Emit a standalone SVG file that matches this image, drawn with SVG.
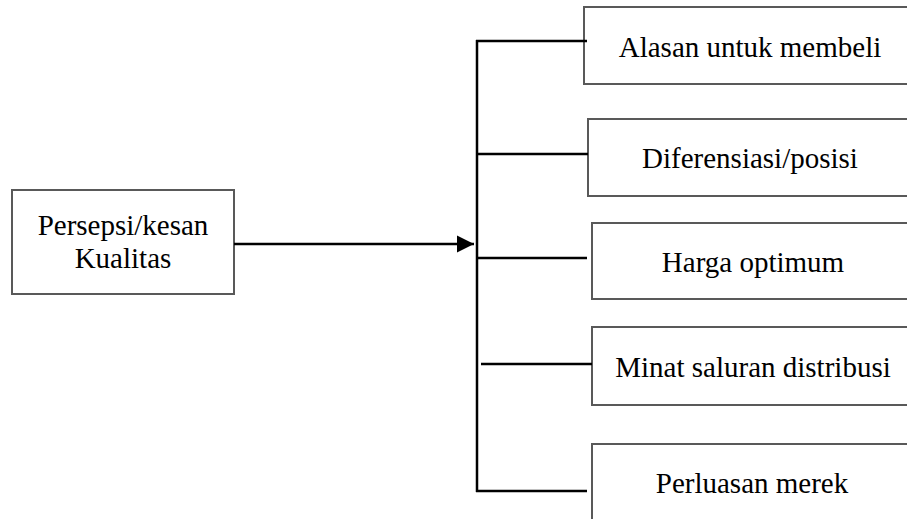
<svg xmlns="http://www.w3.org/2000/svg" width="907" height="519" viewBox="0 0 907 519">
<style>
.box{fill:#fff;stroke:#595959;stroke-width:2}
.lbl{font-family:"Liberation Serif","Times New Roman",serif;font-size:29px;fill:#000;text-anchor:middle}
.con{stroke:#000;stroke-width:2.5;fill:none}
</style>
<defs>
<marker id="arr" markerWidth="8" markerHeight="8" refX="7" refY="3.5" orient="auto" markerUnits="strokeWidth">
<path d="M0,0 L7,3.5 L0,7 Z" fill="#000"/>
</marker>
</defs>
<rect width="907" height="519" fill="#fff"/>
<g id="n-persepsi"><rect class="box" x="12" y="190" width="222" height="104"/><text class="lbl" x="123" y="235">Persepsi/kesan</text><text class="lbl" x="123" y="268">Kualitas</text></g>
<g id="n-alasan"><rect class="box" x="584" y="7" width="330" height="77"/><text class="lbl" x="750" y="57">Alasan untuk membeli</text></g>
<g id="n-diferensiasi"><rect class="box" x="588" y="119" width="330" height="77"/><text class="lbl" x="750" y="168">Diferensiasi/posisi</text></g>
<g id="n-harga"><rect class="box" x="592" y="223" width="330" height="76"/><text class="lbl" x="753" y="272">Harga optimum</text></g>
<g id="n-minat"><rect class="box" x="592" y="327" width="330" height="78"/><text class="lbl" x="753" y="377">Minat saluran distribusi</text></g>
<g id="n-perluasan"><rect class="box" x="592" y="444" width="330" height="90"/><text class="lbl" x="752" y="493">Perluasan merek</text></g>
<g id="connectors">
<line class="con" x1="234" y1="244" x2="474" y2="244" marker-end="url(#arr)"/>
<line class="con" x1="477" y1="40" x2="477" y2="492"/>
<line class="con" x1="476" y1="41" x2="587" y2="41"/>
<line class="con" x1="476" y1="154" x2="588" y2="154"/>
<line class="con" x1="476" y1="258" x2="587" y2="258"/>
<line class="con" x1="481" y1="364" x2="592" y2="364"/>
<line class="con" x1="476" y1="491" x2="587" y2="491"/>
</g>
</svg>
